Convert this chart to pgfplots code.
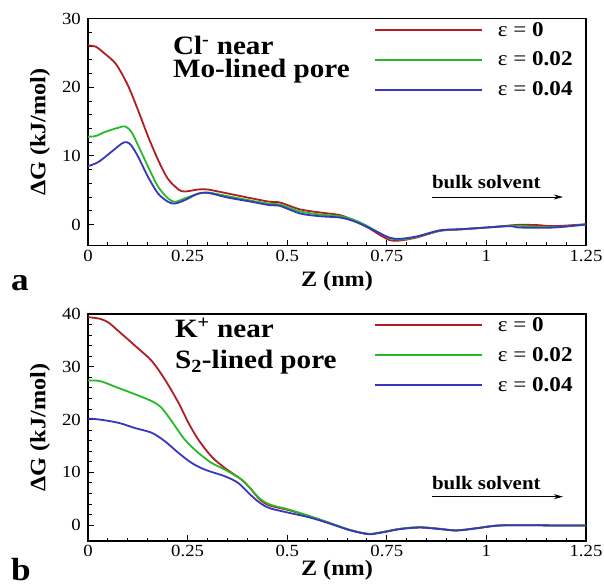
\documentclass[border=0pt]{standalone}
\usepackage{fontspec}
\setmainfont{Liberation Serif}[FakeStretch=1.1]
\usepackage{pgfplots}
\pgfplotsset{compat=1.18}
\usetikzlibrary{arrows.meta}
\definecolor{cred}{RGB}{175,30,35}
\definecolor{cgreen}{RGB}{40,185,40}
\definecolor{cblue}{RGB}{55,55,190}

\pgfplotstableread{
x y
0 26.1
0.02 25.9
0.04 25.0
0.07 23.4
0.10 20.3
0.126 16.6
0.151 12.8
0.176 9.4
0.20 6.7
0.227 5.1
0.243 4.8
0.277 5.1
0.30 5.1
0.327 4.8
0.369 4.3
0.411 3.8
0.457 3.3
0.482 3.2
0.532 2.2
0.582 1.75
0.633 1.35
0.666 0.6
0.70 -0.35
0.733 -1.55
0.758 -2.3
0.783 -2.35
0.825 -1.9
0.884 -0.93
0.934 -0.73
1.0 -0.45
1.059 -0.15
1.084 -0.05
1.13 -0.1
1.168 -0.25
1.243 0.0
1.25 0.05
}\aRed
\pgfplotstableread{
x y
0 12.8
0.02 12.9
0.043 13.5
0.076 14.1
0.093 14.3
0.109 13.5
0.126 11.5
0.151 8.4
0.176 5.5
0.201 3.8
0.218 3.3
0.243 3.8
0.277 4.5
0.302 4.65
0.344 4.2
0.411 3.45
0.457 3.0
0.482 2.9
0.532 1.9
0.582 1.45
0.633 1.2
0.666 0.7
0.70 -0.2
0.733 -1.3
0.758 -2.0
0.79 -2.2
0.825 -1.8
0.884 -0.9
0.934 -0.7
1.0 -0.45
1.059 -0.2
1.084 -0.2
1.168 -0.4
1.25 0.0
}\aGreen
\pgfplotstableread{
x y
0 8.5
0.026 9.1
0.059 10.6
0.085 11.8
0.097 12.0
0.109 11.5
0.126 9.85
0.151 6.9
0.176 4.5
0.201 3.3
0.218 3.05
0.243 3.55
0.277 4.5
0.302 4.6
0.344 4.0
0.381 3.6
0.411 3.3
0.457 2.8
0.482 2.7
0.532 1.6
0.582 1.2
0.633 1.0
0.666 0.5
0.70 -0.35
0.733 -1.3
0.758 -1.95
0.783 -2.1
0.825 -1.75
0.884 -0.85
0.934 -0.7
1.0 -0.45
1.059 -0.25
1.084 -0.45
1.168 -0.45
1.25 0.0
}\aBlue
\pgfplotstableread{
x y
0 39.4
0.03 39.1
0.051 38.4
0.076 36.8
0.118 34.0
0.16 31.1
0.193 27.6
0.227 23.2
0.252 19.4
0.277 16.2
0.31 13.0
0.344 10.8
0.386 8.6
0.407 7.0
0.432 4.8
0.457 3.7
0.507 2.8
0.557 1.65
0.607 0.4
0.657 -0.9
0.703 -1.65
0.733 -1.4
0.783 -0.7
0.833 -0.4
0.884 -0.7
0.925 -1.0
0.975 -0.57
1.026 -0.07
1.084 0.0
1.17 -0.05
1.25 -0.05
}\bRed
\pgfplotstableread{
x y
0 27.4
0.03 27.3
0.076 26.0
0.118 24.8
0.16 23.5
0.185 22.2
0.21 19.7
0.243 16.2
0.277 13.7
0.31 11.8
0.344 10.5
0.386 8.6
0.407 7.0
0.432 5.0
0.457 3.9
0.507 2.9
0.557 1.7
0.607 0.4
0.657 -0.9
0.703 -1.65
0.733 -1.4
0.783 -0.7
0.833 -0.4
0.884 -0.7
0.925 -1.0
0.975 -0.57
1.026 -0.07
1.084 0.0
1.17 -0.05
1.25 -0.05
}\bGreen
\pgfplotstableread{
x y
0 20.2
0.03 20.0
0.076 19.4
0.118 18.4
0.16 17.5
0.193 15.9
0.227 13.7
0.26 11.8
0.294 10.5
0.344 9.25
0.377 8.0
0.407 5.8
0.432 4.2
0.457 3.2
0.507 2.3
0.557 1.45
0.607 0.3
0.657 -0.95
0.703 -1.7
0.733 -1.45
0.783 -0.75
0.833 -0.45
0.884 -0.75
0.925 -1.0
0.975 -0.6
1.026 -0.1
1.084 0.0
1.17 -0.05
1.25 -0.05
}\bBlue

\pgfplotsset{
  panel/.style={
    scale only axis, width=498pt, height=227pt,
    xmin=0, xmax=1.25,
    xtick={0,0.25,0.5,0.75,1,1.25},
    minor x tick num=4, minor y tick num=4,
    tick align=inside, xtick pos=bottom, ytick pos=left,
    major tick length=6pt, minor tick length=3.5pt,
    every tick/.style={black, line width=0.9pt},
    axis line style={line width=1.3pt},
    /pgf/number format/assume math mode=true,
    /pgf/number format/fixed,
    tick label style={font=\fontsize{17}{17}\selectfont},
    xticklabel style={anchor=north, inner sep=0pt, yshift=-4pt},
    yticklabel style={anchor=east, inner sep=0pt, xshift=-7pt},
    xlabel={Z (nm)}, ylabel={ΔG (kJ/mol)},
    every axis x label/.style={at={(axis description cs:0.5,-0.181)}, anchor=base,
      font=\fontsize{22}{22}\selectfont\bfseries},
    every axis y label/.style={at={(axis description cs:-0.0964,0.5)}, rotate=90, anchor=center,
      font=\fontsize{22}{22}\selectfont\bfseries},
    legend style={draw=none, fill=none, font=\fontsize{21}{21}\selectfont,
      at={(axis description cs:0.574,0.995)}, anchor=north west, inner sep=0pt,
      row sep=10.5pt,
      /tikz/every odd column/.append style={column sep=13pt}},
    legend cell align=left,
    legend image code/.code={\draw[#1] (0pt,0pt) -- (107pt,0pt);},
    every axis plot/.append style={line width=1.8pt, smooth, tension=0.5},
  }
}

\begin{document}
\begin{tikzpicture}
\useasboundingbox (0,0) rectangle (604pt,-584pt);
\begin{axis}[panel, at={(88pt,-245.7pt)}, anchor=south west,
  ymin=-3.1, ymax=30, ytick={0,10,20,30}]
\addplot[cred] table {\aRed};
\addlegendentry{ε = \textbf{0}}
\addplot[cgreen] table {\aGreen};
\addlegendentry{ε = \textbf{0.02}}
\addplot[cblue] table {\aBlue};
\addlegendentry{ε = \textbf{0.04}}
\node[anchor=north west, inner sep=0pt, align=left, font=\fontsize{26.5}{23}\selectfont\bfseries] at (axis cs:0.213,27.5) {Cl\textsuperscript{-} near\\Mo-lined pore};
\node[anchor=base west, inner sep=0pt, font=\fontsize{19}{19}\selectfont\bfseries] at (axis cs:0.863,5.3) {bulk solvent};
\draw[-{Stealth[length=9pt,width=5pt]}, line width=0.8pt] (axis cs:0.863,4) -- (axis cs:1.192,4);
\end{axis}
\begin{axis}[panel, at={(88pt,-541pt)}, anchor=south west,
  ymin=-3, ymax=40, ytick={0,10,20,30,40},
  every axis x label/.append style={at={(axis description cs:0.5,-0.15)}}]
\addplot[cred] table {\bRed};
\addlegendentry{ε = \textbf{0}}
\addplot[cgreen] table {\bGreen};
\addlegendentry{ε = \textbf{0.02}}
\addplot[cblue] table {\bBlue};
\addlegendentry{ε = \textbf{0.04}}
\node[anchor=north west, inner sep=0pt, align=left, font=\fontsize{26.5}{31.5}\selectfont\bfseries] at (axis cs:0.218,39.3) {K\textsuperscript{+} near\\S\textsubscript{2}-lined pore};
\node[anchor=base west, inner sep=0pt, font=\fontsize{19}{19}\selectfont\bfseries] at (axis cs:0.863,6.85) {bulk solvent};
\draw[-{Stealth[length=9pt,width=5pt]}, line width=0.8pt] (axis cs:0.863,5.4) -- (axis cs:1.192,5.4);
\end{axis}
\node[anchor=base west, inner sep=0pt, font=\fontsize{32}{32}\selectfont\bfseries] at (11pt,-290pt) {a};
\node[anchor=base west, inner sep=0pt, font=\fontsize{32}{32}\selectfont\bfseries] at (11pt,-580pt) {b};
\end{tikzpicture}
\end{document}
